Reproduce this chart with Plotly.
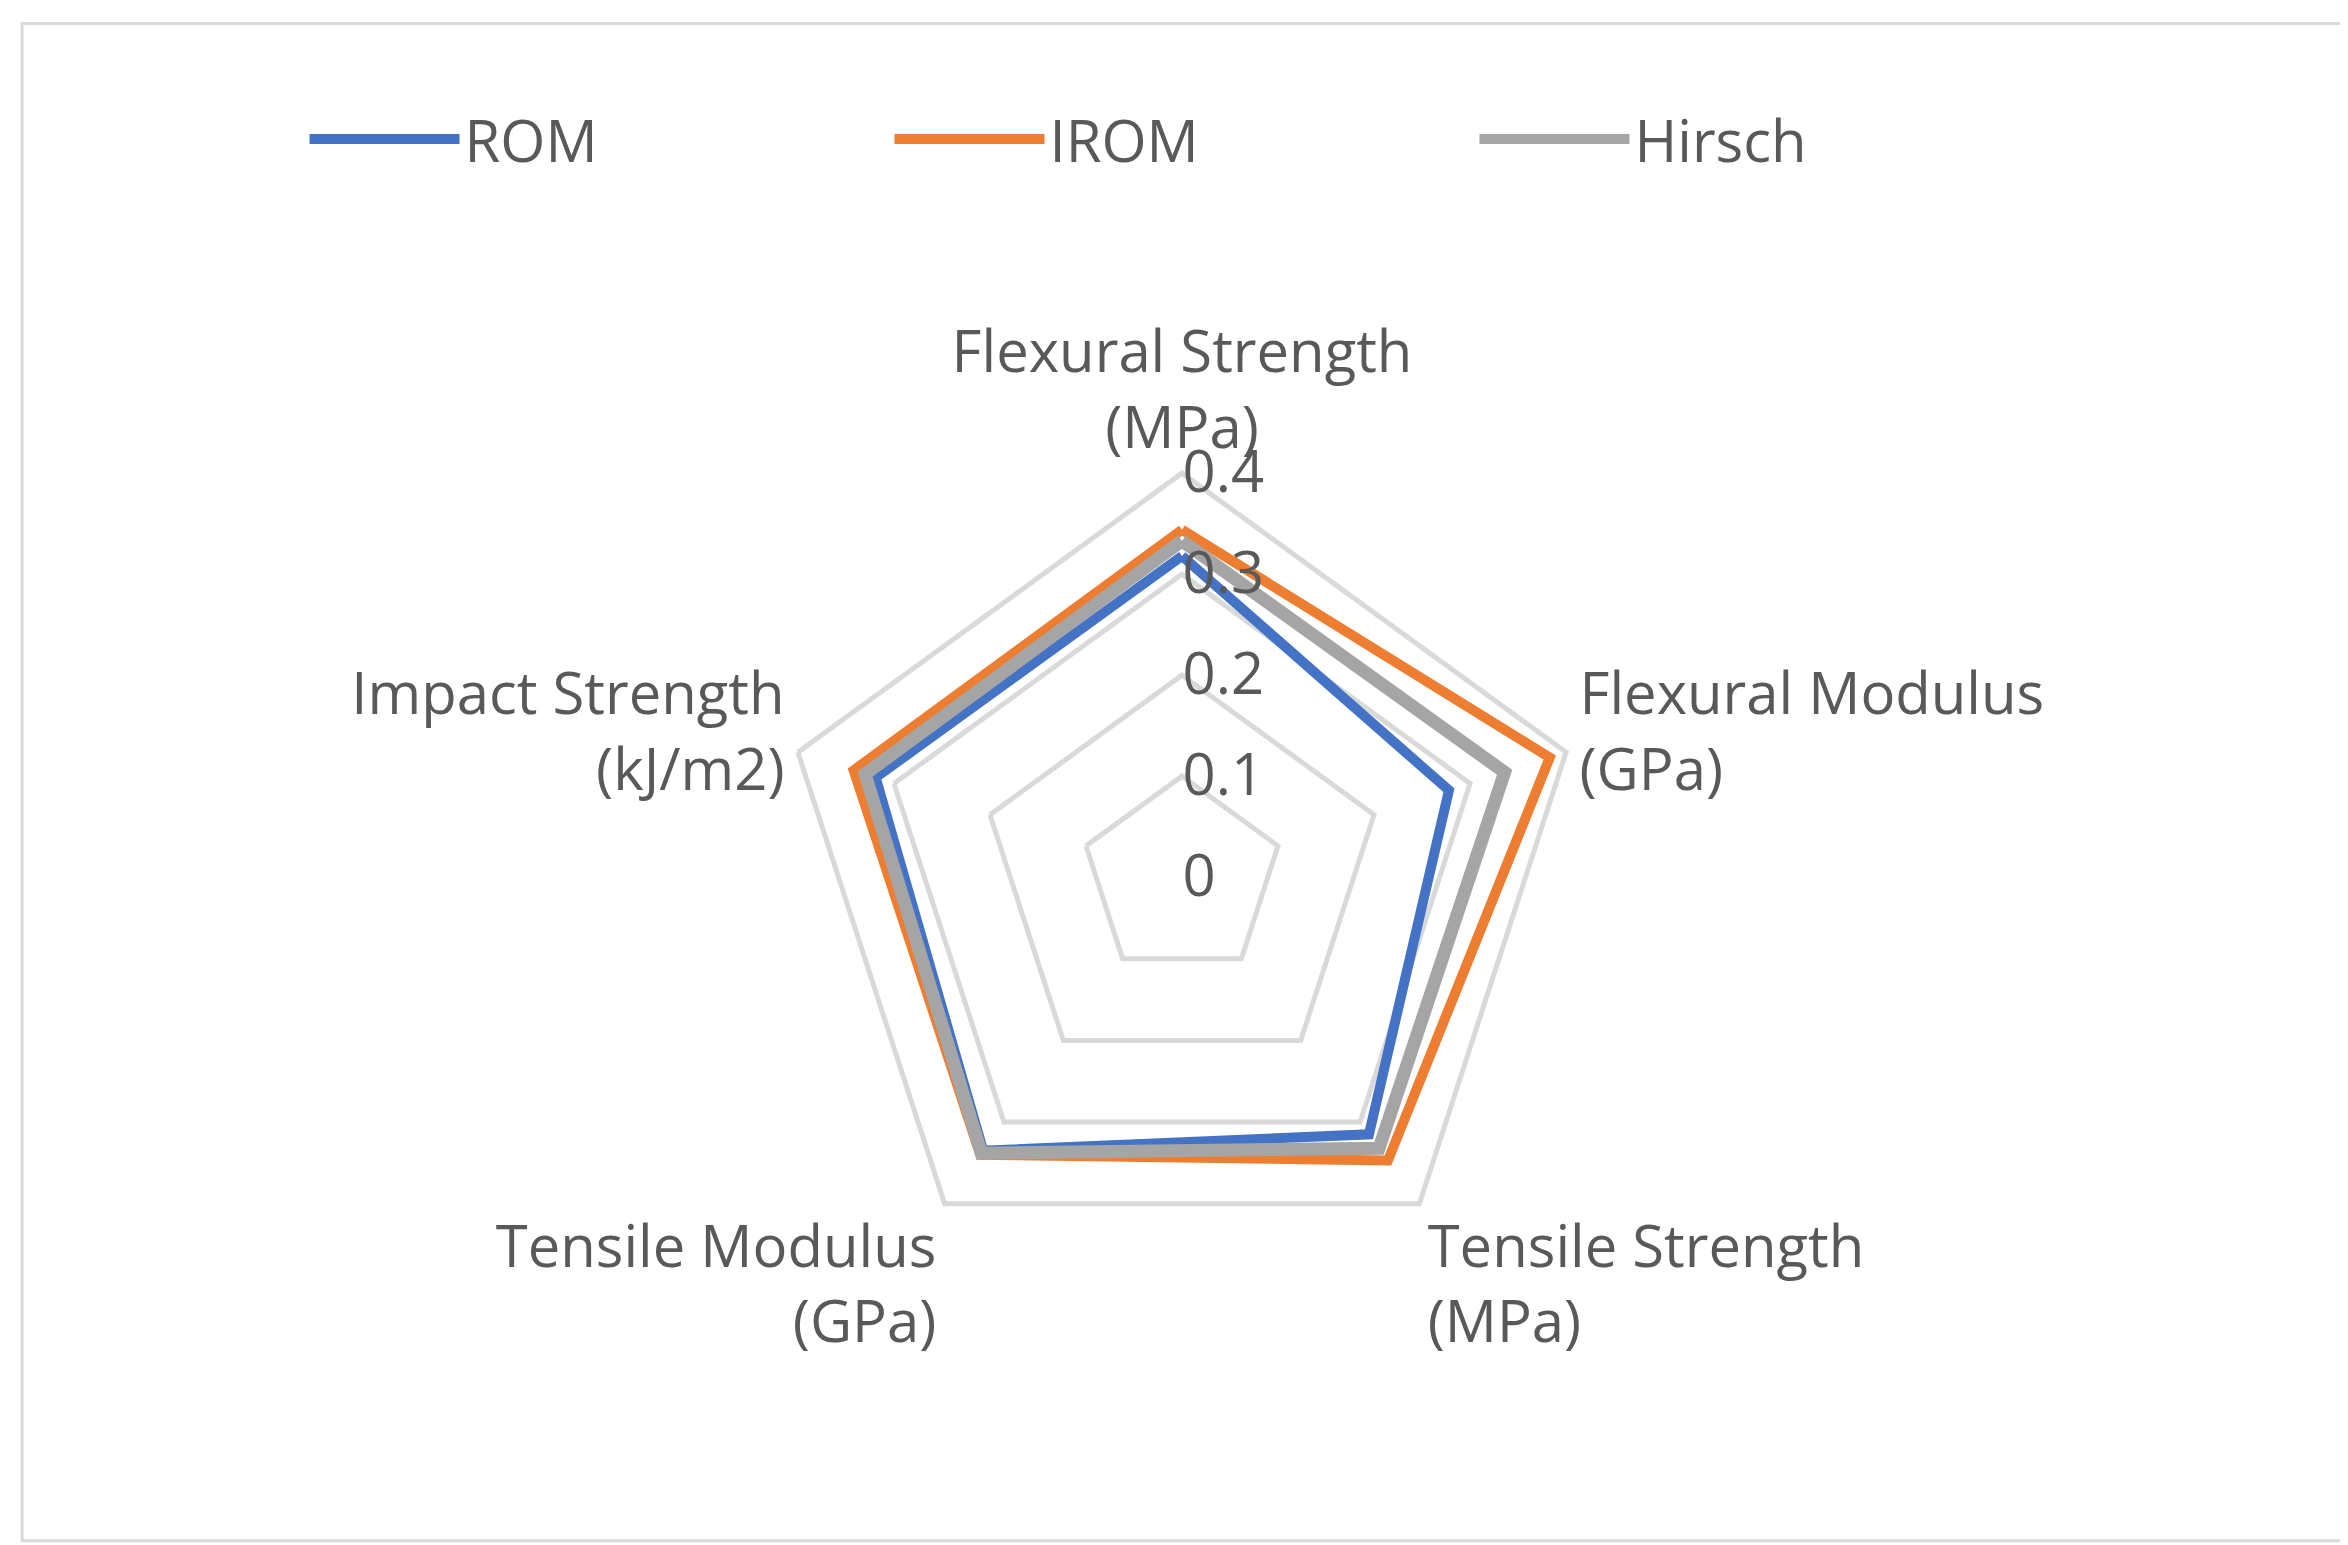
import plotly.graph_objects as go

categories = ["Flexural Strength<br>(MPa)", "Flexural Modulus<br>(GPa)", "Tensile Strength<br>(MPa)",
              "Tensile Modulus<br>(GPa)", "Impact Strength<br>(kJ/m2)"]
rom = [0.318, 0.278, 0.315, 0.335, 0.319]
irom = [0.344, 0.383, 0.347, 0.340, 0.342]
hirsch = [0.333, 0.336, 0.332, 0.338, 0.330]
series = [("ROM", rom, "#4472C4", 10), ("IROM", irom, "#ED7D31", 10), ("Hirsch", hirsch, "#A5A5A5", 13)]

fig = go.Figure()
for name, vals, col, w in series:
    fig.add_trace(go.Scatterpolar(r=vals + vals[:1], theta=categories + categories[:1], mode="lines",
                                  name=name, line=dict(color=col, width=w)))

fig.update_layout(
    width=2348, height=1545, paper_bgcolor="white", plot_bgcolor="white",
    margin=dict(l=0, r=0, t=0, b=0),
    font=dict(family="Open Sans", size=56, color="#595959"),
    legend=dict(orientation="h", x=0.5, xanchor="center", y=0.915, yanchor="middle",
                font=dict(size=58, color="#595959"), entrywidth=420, itemwidth=150),
    polar=dict(
        domain=dict(x=[0.328, 0.672], y=[0.175, 0.70]),
        bgcolor="white", gridshape="linear",
        radialaxis=dict(range=[0, 0.4], tickvals=[0, 0.1, 0.2, 0.3, 0.4], ticktext=["0", "0.1", "0.2", "0.3", "0.4"],
                        angle=90, tickangle=90, side="clockwise", showline=False, ticks="",
                        gridcolor="#D9D9D9", gridwidth=5,
                        tickfont=dict(size=58, color="#595959")),
        angularaxis=dict(rotation=90, direction="clockwise", showgrid=False, showline=True,
                         linecolor="#D9D9D9", linewidth=5, ticks="", tickfont=dict(size=58, color="#595959")),
    ),
    shapes=[dict(type="rect", xref="paper", yref="paper", x0=0.006, x1=0.994, y0=0.008, y1=0.99,
                 line=dict(color="#D9D9D9", width=3))],
)
fig.write_html("out.html")
